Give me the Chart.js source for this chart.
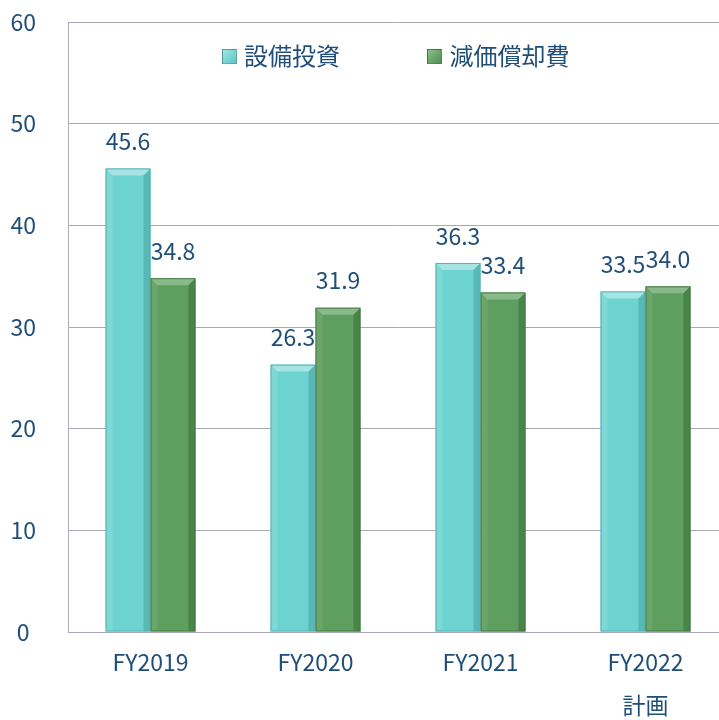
<!DOCTYPE html>
<html>
<head>
<meta charset="utf-8">
<script src="https://cdn.jsdelivr.net/npm/chart.js@4.4.1/dist/chart.umd.min.js"></script>
<style>
  html, body { margin: 0; padding: 0; background: #fff; overflow: hidden; }
  #wrap { position: relative; width: 728px; height: 728px; }
  #legend {
    position: absolute; top: 40px; left: 222px;
    font-family: "Noto Sans CJK JP", "Noto Sans", sans-serif;
    font-size: 24px; color: #1f4e79; line-height: 30px; white-space: nowrap;
  }
  #legend span.item { display: inline-block; }
  #legend span.box {
    display: inline-block; width: 13px; height: 13px; margin-right: 7px;
    vertical-align: 1px; border: 1px solid rgba(0,0,0,0.25);
  }
</style>
</head>
<body>
<div id="wrap">
  <canvas id="chart" width="728" height="728"></canvas>
  <div id="legend">
    <span class="item"><span class="box" style="background: linear-gradient(135deg, #9ee6e4, #5cc6c4);"></span>設備投資</span>
    <span class="item" style="margin-left: 82px;"><span class="box" style="background: linear-gradient(135deg, #86c086, #4f8f4f);"></span>減価償却費</span>
  </div>
</div>
<script>
// --- data ---
const categories = [["FY2019"], ["FY2020"], ["FY2021"], ["FY2022", "計画"]];
const capexValues = [45.6, 26.3, 36.3, 33.5];
const depreciationValues = [34.8, 31.9, 33.4, 34.0];
const seriesNames = ["設備投資", "減価償却費"];

const textColor = '#1f4e79';
const gridColor = '#a9a9b8';
const fontFamily = '"Noto Sans CJK JP", "Noto Sans", sans-serif';

// bevel look for the bars (light top edge, darker sides)
const bevel = {
  id: 'bevel',
  afterDatasetsDraw(chart) {
    const ctx = chart.ctx;
    const tones = [
      { top: 'rgba(255,255,255,0.4)', left: 'rgba(255,255,255,0.12)', right: 'rgba(0,60,60,0.18)', edge: '#55b3b2' },
      { top: 'rgba(255,255,255,0.28)', left: 'rgba(255,255,255,0.08)', right: 'rgba(0,40,0,0.22)', edge: '#447a44' }
    ];
    chart.data.datasets.forEach((ds, di) => {
      const t = tones[di];
      chart.getDatasetMeta(di).data.forEach(bar => {
        const l = bar.x - bar.width / 2, r = bar.x + bar.width / 2;
        const top = bar.y, bot = bar.base, b = 7;
        ctx.save();
        ctx.fillStyle = t.top;
        ctx.beginPath();
        ctx.moveTo(l, top); ctx.lineTo(r, top); ctx.lineTo(r - b, top + b); ctx.lineTo(l + b, top + b);
        ctx.closePath(); ctx.fill();
        ctx.fillStyle = t.left;
        ctx.beginPath();
        ctx.moveTo(l, top); ctx.lineTo(l + b, top + b); ctx.lineTo(l + b, bot); ctx.lineTo(l, bot);
        ctx.closePath(); ctx.fill();
        ctx.fillStyle = t.right;
        ctx.beginPath();
        ctx.moveTo(r, top); ctx.lineTo(r - b, top + b); ctx.lineTo(r - b, bot); ctx.lineTo(r, bot);
        ctx.closePath(); ctx.fill();
        ctx.strokeStyle = t.edge;
        ctx.lineWidth = 1;
        ctx.strokeRect(l + 0.5, top + 0.5, bar.width - 1, bot - top - 1);
        ctx.restore();
      });
    });
  }
};

// value labels above bars
const valueLabels = {
  id: 'valueLabels',
  afterDatasetsDraw(chart) {
    const ctx = chart.ctx;
    ctx.save();
    ctx.font = '23px ' + fontFamily;
    ctx.fillStyle = textColor;
    ctx.textAlign = 'center';
    ctx.textBaseline = 'middle';
    chart.data.datasets.forEach((ds, di) => {
      chart.getDatasetMeta(di).data.forEach((bar, i) => {
        ctx.fillText(ds.data[i].toFixed(1), bar.x, bar.y - 27);
      });
    });
    ctx.restore();
  }
};

new Chart(document.getElementById('chart'), {
  type: 'bar',
  data: {
    labels: categories,
    datasets: [
      { label: seriesNames[0], data: capexValues, backgroundColor: '#6cd3d1' },
      { label: seriesNames[1], data: depreciationValues, backgroundColor: '#5e9e5e' }
    ]
  },
  options: {
    responsive: false,
    animation: false,
    layout: { padding: { top: 22, right: 0, bottom: 0, left: 0 } },
    datasets: { bar: { categoryPercentage: 0.545, barPercentage: 1.0 } },
    scales: {
      x: {
        afterFit(scale) { scale.height = 96; scale.paddingLeft = 0; scale.paddingRight = 0; },
        grid: { display: false, drawTicks: false },
        border: { display: true, color: gridColor, width: 1 },
        ticks: { color: textColor, padding: 9, font: { family: fontFamily, size: 23, lineHeight: 1.87 } }
      },
      y: {
        min: 0, max: 60,
        afterFit(scale) { scale.width = 68; scale.paddingTop = 0; scale.paddingBottom = 0; },
        grid: { color: gridColor, lineWidth: 1, drawTicks: false },
        border: { display: true, color: gridColor, width: 1 },
        ticks: { stepSize: 10, color: textColor, padding: 32, crossAlign: 'center', font: { family: fontFamily, size: 23 } }
      }
    },
    plugins: {
      legend: { display: false },
      tooltip: { enabled: false }
    }
  },
  plugins: [bevel, valueLabels]
});
</script>
</body>
</html>
